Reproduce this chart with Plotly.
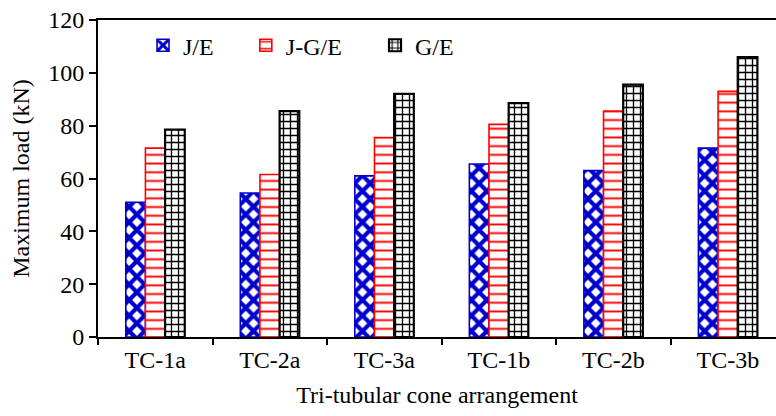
import plotly.graph_objects as go

categories = ["TC-1a", "TC-2a", "TC-3a", "TC-1b", "TC-2b", "TC-3b"]
je_values = [51, 54.5, 61, 65.5, 63, 71.5]
jge_values = [71.5, 61.5, 75.5, 80.5, 85.5, 93]
ge_values = [78.5, 85.5, 92, 88.5, 95.5, 106]
series_names = ["J/E", "J-G/E", "G/E"]
y_ticks = [0, 20, 40, 60, 80, 100, 120]

FONT = "Liberation Serif, Times New Roman, serif"

styles = [
    dict(color="#0000CC", shape="x", size=11, solidity=0.62, lw=1.6, legend="legend", lx=0.0664),
    dict(color="#FF0000", shape="-", size=8.7, solidity=0.22, lw=1.6, legend="legend2", lx=0.218),
    dict(color="#000000", shape="+", size=7, solidity=0.35, lw=2.2, legend="legend3", lx=0.4086),
]

fig = go.Figure()
for name, vals, st in zip(series_names, [je_values, jge_values, ge_values], styles):
    fig.add_trace(go.Bar(
        x=categories, y=vals, name=name, legend=st["legend"],
        marker=dict(
            color="white",
            line=dict(color=st["color"], width=st["lw"]),
            pattern=dict(shape=st["shape"], fgcolor=st["color"], bgcolor="white",
                         size=st["size"], solidity=st["solidity"], fillmode="replace"),
        ),
    ))

legend_common = dict(orientation="h", y=0.99, xanchor="left", yanchor="top",
                     font=dict(family=FONT, size=24), bgcolor="rgba(0,0,0,0)",
                     itemwidth=30)
fig.update_layout(
    width=776, height=416,
    margin=dict(l=98, r=0, t=20, b=79),
    paper_bgcolor="white", plot_bgcolor="white",
    barmode="group", bargap=0.485, bargroupgap=0,
    font=dict(family=FONT, size=24, color="black"),
    legend=dict(x=styles[0]["lx"], **legend_common),
    legend2=dict(x=styles[1]["lx"], **legend_common),
    legend3=dict(x=styles[2]["lx"], **legend_common),
    showlegend=True,
)
fig.update_xaxes(
    type="category", range=[-0.5, 5.42],
    showline=True, linecolor="black", linewidth=2, mirror=True,
    ticks="outside", tickson="boundaries", ticklen=6, tickwidth=2, tickcolor="black",
    showgrid=False, zeroline=False,
    tickfont=dict(family=FONT, size=24),
    title=dict(text="Tri-tubular cone arrangement", font=dict(family=FONT, size=24), standoff=14),
)
fig.update_yaxes(
    range=[0, 120], tickvals=y_ticks,
    showline=True, linecolor="black", linewidth=2, mirror=False,
    ticks="outside", ticklen=7, tickwidth=2, tickcolor="black",
    showgrid=False, zeroline=False,
    tickfont=dict(family=FONT, size=24),
    title=dict(text="Maximum load (kN)", font=dict(family=FONT, size=24), standoff=12),
)

fig.write_html("out.html")
